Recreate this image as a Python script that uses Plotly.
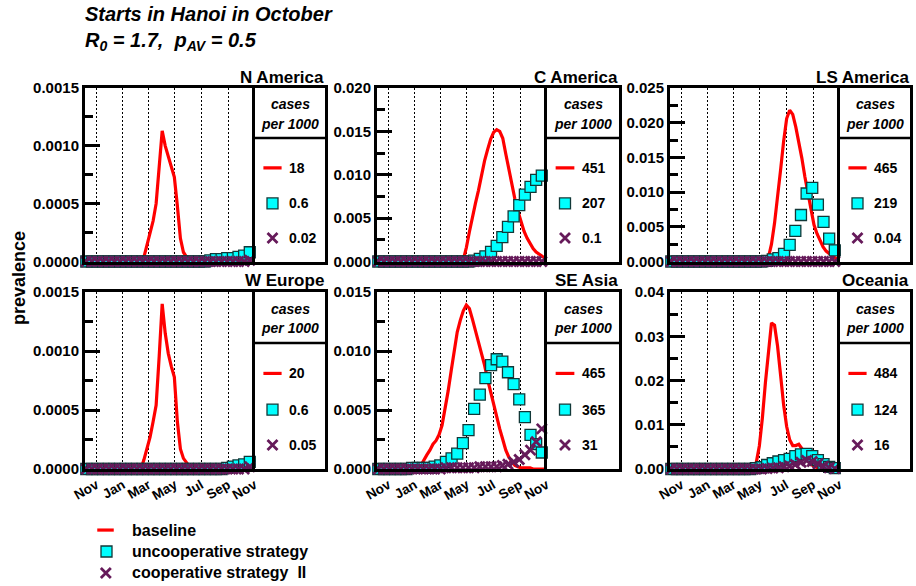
import pandas as pd
import plotly.graph_objects as go

FIG_W, FIG_H = 916, 586

# ---- data -------------------------------------------------------------
regions = ["N America", "C America", "LS America", "W Europe", "SE Asia", "Oceania"]

# cases per 1000 for each scenario
cases_baseline = ["18", "451", "465", "20", "465", "484"]
cases_uncoop = ["0.6", "207", "219", "0.6", "365", "124"]
cases_coop = ["0.02", "0.1", "0.04", "0.05", "31", "16"]

# y axis scales per region
y_max = [0.0015, 0.020, 0.025, 0.0015, 0.015, 0.04]
y_step = [0.0005, 0.005, 0.005, 0.0005, 0.005, 0.01]
y_fmt = [".4f", ".3f", ".3f", ".4f", ".3f", ".2f"]

# weekly prevalence, baseline (no intervention)
line_dates = pd.date_range("2009-10-09", periods=56, freq="7D")
base_n_america = [
    0, 0, 0, 0, 0, 0, 0, 0, 0, 0,
    0, 0, 0, 0, 0, 0, 0, 0, 0, 0.00004,
    0.00015, 0.00026, 0.00035, 0.00050, 0.00080, 0.00113, 0.00100, 0.00091, 0.00082, 0.00073,
    0.00048, 0.00020, 0.00008, 0.00004, 0.00002, 0, 0, 0, 0, 0,
    0, 0, 0, 0, 0, 0, 0, 0, 0, 0,
    0, 0, 0, 0, 0.00002, 0.00010]
base_c_america = [
    0, 0, 0, 0, 0, 0, 0, 0, 0, 0,
    0, 0, 0, 0, 0, 0, 0, 0, 0, 0,
    0, 0, 0, 0, 0, 0, 0, 0, 0.0002, 0.0016,
    0.0034, 0.0052, 0.0067, 0.0082, 0.0100, 0.0116, 0.0129, 0.0141, 0.0149, 0.0152,
    0.0150, 0.0142, 0.0124, 0.0106, 0.0088, 0.0072, 0.0058, 0.0045, 0.0035, 0.0027,
    0.0020, 0.0015, 0.0011, 0.0008, 0.0006, 0.0004]
base_ls_america = [
    0, 0, 0, 0, 0, 0, 0, 0, 0, 0,
    0, 0, 0, 0, 0, 0, 0, 0, 0, 0,
    0, 0, 0, 0, 0, 0, 0, 0, 0, 0,
    0, 0, 0.0006, 0.0025, 0.0055, 0.0090, 0.0132, 0.0173, 0.0206, 0.0218,
    0.0212, 0.0194, 0.0174, 0.0149, 0.0122, 0.0097, 0.0073, 0.0053, 0.0040, 0.0029,
    0.0021, 0.0015, 0.0011, 0.0008, 0.0005, 0.0003]
base_w_europe = [
    0, 0, 0, 0, 0, 0, 0, 0, 0, 0,
    0, 0, 0, 0, 0, 0, 0, 0, 0, 0.00008,
    0.00017, 0.00027, 0.00040, 0.00054, 0.00095, 0.00140, 0.00115, 0.00098, 0.00087, 0.00078,
    0.00040, 0.00017, 0.00009, 0.00005, 0.00002, 0, 0, 0, 0, 0,
    0, 0, 0, 0, 0, 0, 0, 0, 0, 0,
    0, 0, 0, 0, 0, 0.00001]
base_se_asia = [
    0, 0, 0, 0, 0, 0, 0, 0, 0, 0,
    0, 0, 0, 0, 0.0003, 0.0008, 0.0012, 0.0016, 0.0021, 0.0024,
    0.0029, 0.0037, 0.0051, 0.0066, 0.0083, 0.0101, 0.0116, 0.0126, 0.0134, 0.0139,
    0.0136, 0.0127, 0.0117, 0.0108, 0.0099, 0.0088, 0.0076, 0.0065, 0.0054, 0.0044,
    0.0034, 0.0025, 0.0016, 0.0010, 0.0006, 0.0003, 0.0002, 0.0001, 0.0001, 0.0001,
    0.0001, 0, 0, 0, 0, 0]
base_oceania = [
    0, 0, 0, 0, 0, 0, 0, 0, 0, 0,
    0, 0, 0, 0, 0, 0, 0, 0, 0, 0,
    0, 0, 0, 0, 0, 0, 0, 0.0002, 0.0015, 0.0052,
    0.0115, 0.0195, 0.0261, 0.0330, 0.0325, 0.0278, 0.0212, 0.0145, 0.0096, 0.0066,
    0.0053, 0.0053, 0.0056, 0.0046, 0.0032, 0.0019, 0.0010, 0.0006, 0.0003, 0.0002,
    0.0001, 0, 0, 0, 0, 0]

# prevalence under the two antiviral strategies, sampled every 13 days
marker_dates = pd.date_range("2009-10-09", periods=30, freq="13D")
uncoop_n_america = [
    0, 0, 0, 0, 0, 0, 0, 0, 0, 0,
    0, 0, 0, 0, 0, 0, 0, 0, 0, 0,
    0, 0, 0.00001, 0.00002, 0.00002, 0.00003, 0.00003, 0.00004, 0.00005, 0.00008]
uncoop_c_america = [
    0, 0, 0, 0, 0, 0, 0, 0, 0, 0,
    0, 0, 0, 0, 0, 0, 0, 0.0001, 0.0003, 0.0006,
    0.0011, 0.0018, 0.0028, 0.0040, 0.0052, 0.0065, 0.0077, 0.0086, 0.0094, 0.0099]
uncoop_ls_america = [
    0, 0, 0, 0, 0, 0, 0, 0, 0, 0,
    0, 0, 0, 0, 0, 0, 0, 0.0001, 0.0003, 0.0005,
    0.0011, 0.0024, 0.0044, 0.0067, 0.0098, 0.0106, 0.0082, 0.0057, 0.0033, 0.0016]
uncoop_w_europe = [
    0, 0, 0, 0, 0, 0, 0, 0, 0, 0,
    0, 0, 0, 0, 0, 0, 0, 0, 0, 0,
    0, 0, 0, 0, 0, 0.00001, 0.00002, 0.00003, 0.00004, 0.00006]
uncoop_se_asia = [
    0, 0, 0, 0, 0, 0, 0.0001, 0.0001, 0.0001, 0.0001,
    0.0002, 0.0003, 0.0006, 0.0009, 0.0013, 0.0022, 0.0033, 0.0051, 0.0063, 0.0077,
    0.0088, 0.0093, 0.0091, 0.0082, 0.0072, 0.0059, 0.0044, 0.0029, 0.0021, 0.0014]
uncoop_oceania = [
    0, 0, 0, 0, 0, 0, 0, 0, 0, 0,
    0, 0, 0, 0, 0, 0.0002, 0.0004, 0.0009, 0.0013, 0.0017,
    0.0020, 0.0023, 0.0029, 0.0033, 0.0034, 0.0029, 0.0020, 0.0011, 0.0005, 0.0002]

coop_n_america = [
    0, 0, 0, 0, 0, 0, 0, 0, 0, 0,
    0, 0, 0, 0, 0, 0, 0, 0, 0, 0,
    0, 0, 0, 0, 0, 0, 0, 0, 0, 0.00001]
coop_c_america = [
    0, 0, 0, 0, 0, 0, 0, 0, 0, 0,
    0, 0, 0, 0, 0, 0, 0, 0, 0, 0,
    0, 0, 0, 0, 0, 0, 0, 0, 0, 0]
coop_ls_america = [
    0, 0, 0, 0, 0, 0, 0, 0, 0, 0,
    0, 0, 0, 0, 0, 0, 0, 0, 0, 0,
    0, 0, 0, 0, 0, 0, 0, 0, 0, 0]
coop_w_europe = [
    0, 0, 0, 0, 0, 0, 0, 0, 0, 0,
    0, 0, 0, 0, 0, 0, 0, 0, 0, 0,
    0, 0, 0, 0, 0, 0, 0, 0, 0, 0.00002]
coop_se_asia = [
    0, 0, 0, 0, 0, 0, 0, 0, 0, 0,
    0, 0, 0.0001, 0.0001, 0.0001, 0.0001, 0.0001, 0.0001, 0.0002, 0.0002,
    0.0002, 0.0002, 0.0003, 0.0004, 0.0006, 0.0008, 0.0012, 0.0016, 0.0023, 0.0034]
coop_oceania = [
    0, 0, 0, 0, 0, 0, 0, 0, 0, 0,
    0, 0, 0, 0, 0, 0, 0, 0.0001, 0.0002, 0.0003,
    0.0005, 0.0007, 0.0010, 0.0015, 0.0019, 0.0017, 0.0012, 0.0006, 0.0003, 0.0001]

baseline = [base_n_america, base_c_america, base_ls_america,
            base_w_europe, base_se_asia, base_oceania]
uncoop = [uncoop_n_america, uncoop_c_america, uncoop_ls_america,
          uncoop_w_europe, uncoop_se_asia, uncoop_oceania]
coop = [coop_n_america, coop_c_america, coop_ls_america,
        coop_w_europe, coop_se_asia, coop_oceania]

x_range = ["2009-10-06", "2010-11-02"]

# ---- styling ----------------------------------------------------------
RED = "#ff0000"
CYAN = "#00ffff"
EDGE = "#123838"
PURPLE = "#661a5a"
FONT = "Liberation Sans"

# panel geometry in pixels: (plot left, plot right, box right) and (top, bottom)
col_px = [(85, 255, 325), (377, 547, 619), (670, 840, 910)]
row_px = [(88, 261.5), (292, 469)]


def fx(px):
    return px / FIG_W


def fy(px):
    return 1 - px / FIG_H


def bold(size, italic=False):
    d = dict(family=FONT, size=size, color="black", weight="bold")
    if italic:
        d["style"] = "italic"
    return d


def axis_key(prefix, n):
    return prefix if n == 1 else f"{prefix}{n}"


fig = go.Figure()
layout = {}
annotations = []
shapes = []

square_marker = dict(symbol="square", size=11, color=CYAN,
                     line=dict(color=EDGE, width=1.3))
x_marker = dict(symbol="x-thin", size=10, color=PURPLE,
                line=dict(color=PURPLE, width=2.8))

for i, name in enumerate(regions):
    r, c = divmod(i, 3)
    left, right, box_right = col_px[c]
    top, bottom = row_px[r]
    n = i + 1          # data axes
    nb = i + 7         # side box axes

    layout[axis_key("xaxis", n)] = dict(
        domain=[fx(left), fx(right)], range=x_range, type="date",
        anchor=f"y{n}", showline=True, mirror=True, linecolor="black",
        linewidth=3, showgrid=True, gridcolor="#000000",
        griddash="1.5px,2.5px", gridwidth=1.3, dtick="M2",
        tick0="2009-11-01", tickformat="%b", ticks="",
        showticklabels=(r == 1), tickangle=-30, tickfont=bold(13.5),
        zeroline=False, fixedrange=True, automargin=False,
        layer="above traces")
    layout[axis_key("yaxis", n)] = dict(
        domain=[fy(bottom), fy(top)], range=[0, y_max[i]], anchor=f"x{n}",
        dtick=y_step[i], tick0=0, tickformat=y_fmt[i], ticks="inside",
        ticklen=15, tickwidth=3, tickcolor="black", showline=True,
        linewidth=3, linecolor="black", mirror=False, showgrid=False,
        zeroline=False, tickfont=bold(15), fixedrange=True, automargin=False,
        minor=dict(dtick=y_step[i] / 2, ticks="inside", ticklen=8,
                   tickwidth=3, tickcolor="black", showgrid=False))

    fig.add_trace(go.Scatter(
        x=line_dates, y=baseline[i], mode="lines",
        line=dict(color=RED, width=3.2), xaxis=f"x{n}", yaxis=f"y{n}",
        hoverinfo="skip"))
    fig.add_trace(go.Scatter(
        x=marker_dates, y=uncoop[i], mode="markers", marker=square_marker,
        cliponaxis=False, xaxis=f"x{n}", yaxis=f"y{n}", hoverinfo="skip"))
    fig.add_trace(go.Scatter(
        x=marker_dates, y=coop[i], mode="markers", marker=x_marker,
        cliponaxis=False, xaxis=f"x{n}", yaxis=f"y{n}", hoverinfo="skip"))

    # side box with cumulative cases
    layout[axis_key("xaxis", nb)] = dict(
        domain=[fx(right), fx(box_right)], range=[0, 1], anchor=f"y{nb}",
        showline=True, mirror=True, linecolor="black", linewidth=3,
        showgrid=False, zeroline=False, showticklabels=False, ticks="",
        fixedrange=True, automargin=False)
    layout[axis_key("yaxis", nb)] = dict(
        domain=[fy(bottom), fy(top)], range=[0, 1], anchor=f"x{nb}",
        showline=True, mirror=True, linecolor="black", linewidth=3,
        showgrid=False, zeroline=False, showticklabels=False, ticks="",
        fixedrange=True, automargin=False)
    shapes.append(dict(type="line", xref=f"x{nb}", yref=f"y{nb}",
                       x0=0, x1=1, y0=0.712, y1=0.712,
                       line=dict(color="black", width=2.5)))
    annotations.append(dict(xref=f"x{nb}", yref=f"y{nb}", x=0.5, y=0.905,
                            text="cases", showarrow=False,
                            font=bold(14, italic=True)))
    annotations.append(dict(xref=f"x{nb}", yref=f"y{nb}", x=0.5, y=0.795,
                            text="per 1000", showarrow=False,
                            font=bold(14, italic=True)))
    fig.add_trace(go.Scatter(
        x=[0.12, 0.38], y=[0.54, 0.54], mode="lines",
        line=dict(color=RED, width=3.2), xaxis=f"x{nb}", yaxis=f"y{nb}",
        hoverinfo="skip"))
    fig.add_trace(go.Scatter(
        x=[0.25], y=[0.335], mode="markers", marker=square_marker,
        xaxis=f"x{nb}", yaxis=f"y{nb}", hoverinfo="skip"))
    fig.add_trace(go.Scatter(
        x=[0.25], y=[0.135], mode="markers", marker=x_marker,
        xaxis=f"x{nb}", yaxis=f"y{nb}", hoverinfo="skip"))
    for yv, txt in zip([0.54, 0.335, 0.135],
                       [cases_baseline[i], cases_uncoop[i], cases_coop[i]]):
        annotations.append(dict(xref=f"x{nb}", yref=f"y{nb}", x=0.46, y=yv,
                                text=txt, showarrow=False, xanchor="left",
                                font=bold(14)))

    # region title
    annotations.append(dict(xref="paper", yref="paper", x=fx(box_right + 1),
                            y=fy(top - 11), text=name, showarrow=False,
                            xanchor="right", yanchor="middle", font=bold(17)))

# bottom key
layout["xaxis13"] = dict(domain=[fx(90), fx(420)], range=[0, 1], anchor="y13",
                         visible=False, fixedrange=True, automargin=False)
layout["yaxis13"] = dict(domain=[fy(585), fy(518)], range=[0, 1], anchor="x13",
                         visible=False, fixedrange=True, automargin=False)
key_labels = ["baseline", "uncooperative strategy", "cooperative strategy\u00a0 II"]
key_y = [0.82, 0.5, 0.18]
fig.add_trace(go.Scatter(x=[0.022, 0.072], y=[key_y[0]] * 2, mode="lines",
                         line=dict(color=RED, width=3.2), xaxis="x13",
                         yaxis="y13", hoverinfo="skip"))
fig.add_trace(go.Scatter(x=[0.05], y=[key_y[1]], mode="markers",
                         marker=square_marker, xaxis="x13", yaxis="y13",
                         hoverinfo="skip"))
fig.add_trace(go.Scatter(x=[0.048], y=[key_y[2]], mode="markers",
                         marker=x_marker, xaxis="x13", yaxis="y13",
                         hoverinfo="skip"))
for yv, txt in zip(key_y, key_labels):
    annotations.append(dict(xref="x13", yref="y13", x=0.122, y=yv, text=txt,
                            showarrow=False, xanchor="left", font=bold(16)))

# titles
annotations.append(dict(xref="paper", yref="paper", x=fx(83), y=fy(14),
                        text="Starts in Hanoi in October", showarrow=False,
                        xanchor="left", yanchor="middle",
                        font=bold(20, italic=True)))
annotations.append(dict(xref="paper", yref="paper", x=fx(83), y=fy(42),
                        text="R<sub>0</sub> = 1.7,\u00a0 p<sub>AV</sub> = 0.5",
                        showarrow=False, xanchor="left", yanchor="middle",
                        font=bold(20, italic=True)))
annotations.append(dict(xref="paper", yref="paper", x=fx(19), y=fy(278),
                        text="prevalence", showarrow=False, textangle=-90,
                        xanchor="center", yanchor="middle", font=bold(18)))

fig.update_layout(
    template="none",
    width=FIG_W, height=FIG_H, autosize=False,
    margin=dict(l=0, r=0, t=0, b=0, pad=0),
    paper_bgcolor="white", plot_bgcolor="white", showlegend=False,
    annotations=annotations, shapes=shapes, **layout)

# page without the default body margin so the figure sits at the window origin
fig.write_html("out.html",
               post_script="document.body.style.margin='0';"
                           "document.body.style.overflow='hidden';")
